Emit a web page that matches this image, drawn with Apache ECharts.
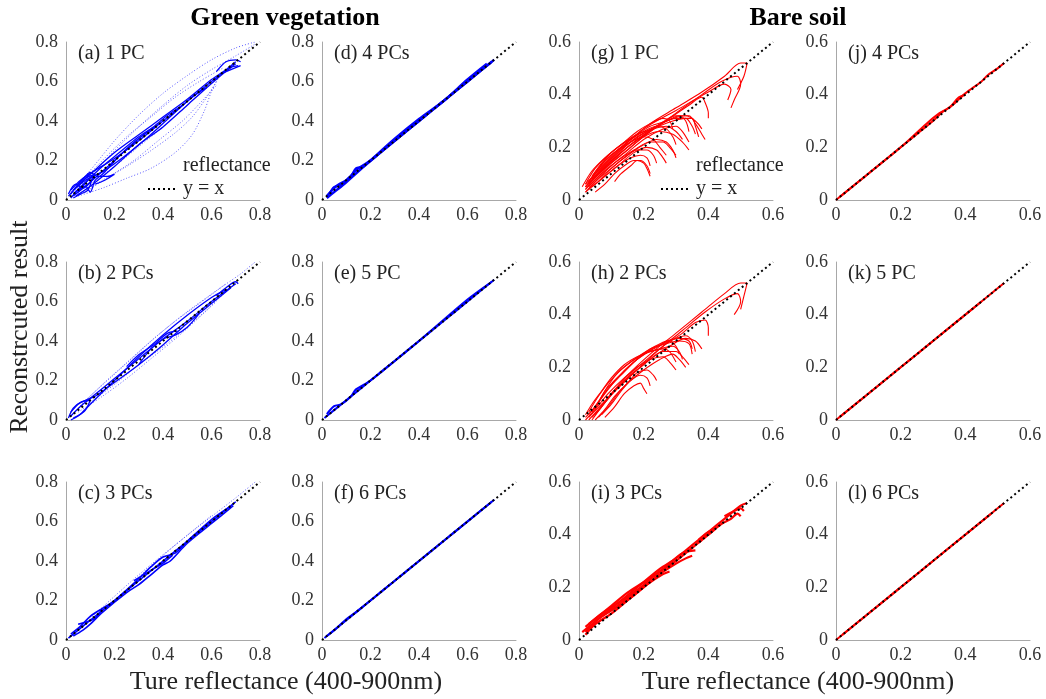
<!DOCTYPE html>
<html>
<head>
<meta charset="utf-8">
<script src="https://cdn.jsdelivr.net/npm/echarts@6/dist/echarts.min.js"></script>
<style>html,body{margin:0;padding:0;background:#fff}#chart{width:1046px;height:699px}</style>
</head>
<body>
<div id="chart"></div>
<script>
// ---------------- DATA ----------------
const panelLabels = ['(a) 1 PC','(b) 2 PCs','(c) 3 PCs','(d) 4 PCs','(e) 5 PC','(f) 6 PCs',
                     '(g) 1 PC','(h) 2 PCs','(i) 3 PCs','(j) 4 PCs','(k) 5 PC','(l) 6 PCs'];
const vegTicks = [0, 0.2, 0.4, 0.6, 0.8];
const soilTicks = [0, 0.2, 0.4, 0.6];
const vegIdentity = [[0,0],[0.8,0.8]];
const soilIdentity = [[0,0],[0.6,0.6]];

// Green vegetation, 1 PC
const vegA_dotted = [
  [[0.02,0.04],[0.1,0.15],[0.2,0.3],[0.3,0.43],[0.4,0.54],[0.5,0.63],[0.6,0.71],[0.7,0.77],[0.78,0.8]],
  [[0.02,0.03],[0.1,0.12],[0.2,0.25],[0.3,0.37],[0.4,0.48],[0.5,0.58],[0.6,0.66],[0.7,0.73],[0.78,0.79]],
  [[0.05,0.02],[0.15,0.06],[0.25,0.11],[0.35,0.16],[0.45,0.24],[0.52,0.33],[0.57,0.45],[0.6,0.55],[0.63,0.62]],
  [[0.05,0.03],[0.15,0.1],[0.25,0.17],[0.35,0.25],[0.45,0.34],[0.52,0.42],[0.58,0.52],[0.62,0.6]],
  [[0.1,0.08],[0.2,0.17],[0.3,0.27],[0.4,0.37],[0.5,0.48],[0.6,0.59],[0.65,0.65]],
  [[0.05,0.07],[0.15,0.2],[0.25,0.32],[0.35,0.42],[0.45,0.52],[0.55,0.6],[0.65,0.67]],
  [[0.08,0.04],[0.18,0.12],[0.28,0.2],[0.38,0.3],[0.48,0.4],[0.56,0.5],[0.62,0.58]]
];
const vegA_solid = [
  [[0.02,0.03],[0.05,0.08],[0.08,0.12],[0.1,0.14],[0.13,0.12],[0.17,0.12],[0.2,0.13],[0.16,0.1],[0.12,0.08]],
  [[0.03,0.02],[0.1,0.09],[0.2,0.2],[0.3,0.31],[0.4,0.4],[0.5,0.5],[0.6,0.6],[0.7,0.69]],
  [[0.03,0.05],[0.1,0.13],[0.2,0.24],[0.3,0.33],[0.4,0.42],[0.5,0.51],[0.6,0.61],[0.66,0.66],[0.7,0.7]],
  [[0.04,0.02],[0.1,0.07],[0.2,0.17],[0.3,0.28],[0.4,0.37],[0.5,0.48],[0.6,0.59],[0.68,0.67],[0.71,0.68]],
  [[0.02,0.05],[0.06,0.1],[0.12,0.15],[0.2,0.21],[0.3,0.3],[0.38,0.38]],
  [[0.01,0.02],[0.04,0.06],[0.08,0.1],[0.11,0.12],[0.09,0.05],[0.06,0.03],[0.03,0.01]],
  [[0.02,0.01],[0.05,0.05],[0.08,0.07],[0.1,0.04],[0.12,0.1],[0.15,0.13],[0.25,0.26],[0.35,0.36]],
  [[0.03,0.03],[0.08,0.09],[0.15,0.17],[0.22,0.24],[0.3,0.32],[0.36,0.37],[0.42,0.43],[0.48,0.48]],
  [[0.05,0.04],[0.1,0.11],[0.16,0.15],[0.24,0.22],[0.33,0.31],[0.42,0.41],[0.52,0.52],[0.58,0.57]],
  [[0.01,0.03],[0.04,0.08],[0.07,0.06],[0.1,0.09],[0.12,0.13],[0.08,0.11],[0.05,0.07]],
  [[0.62,0.65],[0.66,0.7],[0.7,0.71],[0.72,0.7]],
  [[0.64,0.64],[0.68,0.66],[0.72,0.68]]
];
// Green vegetation, 2 PCs
const vegB_dotted = [
  [[0.05,0.06],[0.15,0.18],[0.25,0.29],[0.35,0.4],[0.45,0.5],[0.55,0.59],[0.65,0.68],[0.72,0.74],[0.78,0.8]],
  [[0.05,0.04],[0.15,0.12],[0.25,0.21],[0.35,0.31],[0.45,0.41],[0.55,0.52],[0.62,0.6]],
  [[0.08,0.1],[0.18,0.21],[0.28,0.32],[0.38,0.43],[0.48,0.53],[0.58,0.62],[0.66,0.69]],
  [[0.1,0.09],[0.2,0.18],[0.3,0.28],[0.4,0.37],[0.5,0.47],[0.6,0.58],[0.66,0.65]]
];
const vegB_solid = [
  [[0.02,0.02],[0.06,0.07],[0.1,0.11],[0.2,0.21],[0.3,0.31],[0.4,0.41],[0.5,0.5],[0.6,0.6],[0.7,0.69]],
  [[0.02,0.04],[0.05,0.08],[0.08,0.1],[0.12,0.12],[0.2,0.19],[0.3,0.28],[0.4,0.38],[0.5,0.49],[0.6,0.59],[0.68,0.67]],
  [[0.03,0.01],[0.06,0.03],[0.1,0.08],[0.2,0.2],[0.3,0.32],[0.4,0.43],[0.5,0.53],[0.6,0.62],[0.66,0.66]],
  [[0.01,0.01],[0.03,0.06],[0.06,0.09],[0.1,0.1],[0.08,0.05],[0.05,0.02],[0.02,0.0]],
  [[0.3,0.28],[0.35,0.36],[0.4,0.41],[0.45,0.43],[0.5,0.47],[0.55,0.54]],
  [[0.25,0.27],[0.3,0.33],[0.36,0.38],[0.42,0.44],[0.46,0.45]],
  [[0.62,0.63],[0.66,0.67],[0.7,0.7],[0.71,0.69]]
];
// Green vegetation, 3 PCs
const vegC_dotted = [
  [[0.1,0.11],[0.3,0.33],[0.5,0.53],[0.7,0.72],[0.78,0.8]],
  [[0.3,0.32],[0.45,0.48],[0.6,0.63]]
];
const vegC_solid = [
  [[0.01,0.01],[0.05,0.05],[0.1,0.1],[0.2,0.2],[0.3,0.3],[0.4,0.4],[0.5,0.5],[0.6,0.6],[0.7,0.7]],
  [[0.02,0.03],[0.06,0.07],[0.1,0.12],[0.15,0.16],[0.2,0.2],[0.3,0.31],[0.35,0.37],[0.4,0.42],[0.45,0.44],[0.5,0.5],[0.6,0.61],[0.67,0.67]],
  [[0.03,0.02],[0.07,0.05],[0.1,0.08],[0.15,0.14],[0.25,0.24],[0.3,0.28],[0.35,0.33],[0.4,0.38],[0.43,0.4],[0.5,0.49],[0.6,0.59],[0.69,0.68]],
  [[0.28,0.3],[0.32,0.33],[0.36,0.36],[0.4,0.39],[0.44,0.43]],
  [[0.05,0.08],[0.08,0.09],[0.12,0.11],[0.15,0.16]]
];
// Green vegetation, 4 PCs
const vegD_solid = [
  [[0.02,0.02],[0.05,0.06],[0.07,0.08],[0.1,0.1],[0.15,0.16],[0.2,0.2],[0.3,0.3],[0.4,0.4],[0.5,0.5],[0.6,0.6],[0.7,0.7],[0.71,0.71]],
  [[0.03,0.03],[0.05,0.065],[0.08,0.08],[0.12,0.12],[0.14,0.16],[0.17,0.17],[0.25,0.25],[0.35,0.35],[0.45,0.45],[0.55,0.55],[0.65,0.65],[0.7,0.7]],
  [[0.02,0.01],[0.05,0.04],[0.1,0.09],[0.2,0.2],[0.3,0.31],[0.4,0.41],[0.5,0.5],[0.6,0.61],[0.68,0.69]]
];
// Green vegetation, 5 PCs
const vegE_solid = [
  [[0.01,0.01],[0.05,0.05],[0.1,0.1],[0.2,0.2],[0.3,0.3],[0.4,0.4],[0.5,0.5],[0.6,0.6],[0.71,0.71]],
  [[0.02,0.03],[0.05,0.07],[0.08,0.08],[0.12,0.12],[0.14,0.155],[0.2,0.2],[0.4,0.4],[0.6,0.61],[0.7,0.7]]
];
// Green vegetation, 6 PCs
const vegF_solid = [
  [[0.01,0.01],[0.05,0.05],[0.1,0.1],[0.2,0.2],[0.3,0.3],[0.4,0.4],[0.5,0.5],[0.6,0.6],[0.71,0.71]],
  [[0.02,0.02],[0.06,0.06],[0.1,0.105],[0.15,0.15],[0.3,0.3],[0.5,0.5],[0.7,0.7]]
];
// Bare soil, 1 PC
const soilG_solid = [
  [[0.03,0.07],[0.08,0.14],[0.15,0.22],[0.22,0.29],[0.3,0.35],[0.38,0.41],[0.45,0.47],[0.5,0.52],[0.52,0.52],[0.51,0.47],[0.49,0.42]],
  [[0.03,0.06],[0.08,0.12],[0.15,0.2],[0.22,0.26],[0.3,0.33],[0.38,0.4],[0.44,0.45],[0.49,0.47],[0.5,0.44],[0.48,0.38],[0.47,0.35]],
  [[0.02,0.05],[0.07,0.11],[0.14,0.18],[0.21,0.25],[0.28,0.31],[0.34,0.36],[0.38,0.39],[0.39,0.37],[0.4,0.33],[0.4,0.31]],
  [[0.02,0.04],[0.06,0.1],[0.12,0.17],[0.18,0.23],[0.24,0.28],[0.3,0.32],[0.34,0.32],[0.36,0.29],[0.38,0.25],[0.39,0.23]],
  [[0.02,0.05],[0.06,0.1],[0.11,0.16],[0.17,0.22],[0.23,0.27],[0.29,0.3],[0.33,0.31],[0.35,0.28],[0.36,0.25]],
  [[0.03,0.06],[0.07,0.12],[0.12,0.18],[0.18,0.24],[0.24,0.28],[0.3,0.31],[0.35,0.31],[0.36,0.28],[0.37,0.24]],
  [[0.02,0.03],[0.05,0.07],[0.1,0.13],[0.15,0.18],[0.2,0.23],[0.26,0.27],[0.3,0.28],[0.32,0.26],[0.34,0.22]],
  [[0.02,0.04],[0.06,0.09],[0.1,0.14],[0.15,0.19],[0.2,0.24],[0.25,0.26],[0.29,0.25],[0.32,0.22],[0.34,0.19]],
  [[0.03,0.07],[0.06,0.12],[0.1,0.17],[0.15,0.22],[0.2,0.26],[0.24,0.28],[0.27,0.27],[0.29,0.24],[0.3,0.21]],
  [[0.02,0.05],[0.05,0.1],[0.08,0.15],[0.12,0.19],[0.16,0.22],[0.2,0.24],[0.23,0.23],[0.25,0.2],[0.27,0.17]],
  [[0.02,0.03],[0.05,0.06],[0.09,0.1],[0.13,0.14],[0.17,0.18],[0.21,0.2],[0.24,0.19],[0.26,0.16],[0.27,0.14]],
  [[0.03,0.04],[0.06,0.08],[0.1,0.12],[0.14,0.16],[0.18,0.19],[0.21,0.19],[0.23,0.17],[0.24,0.14]],
  [[0.05,0.03],[0.08,0.06],[0.11,0.1],[0.14,0.13],[0.17,0.15],[0.19,0.15],[0.21,0.13],[0.22,0.1]],
  [[0.11,0.07],[0.13,0.1],[0.16,0.13],[0.18,0.15],[0.2,0.14],[0.21,0.12],[0.22,0.09]],
  [[0.04,0.09],[0.07,0.14],[0.1,0.18],[0.14,0.22],[0.18,0.26],[0.22,0.29],[0.26,0.31],[0.28,0.3],[0.29,0.27]],
  [[0.01,0.05],[0.04,0.11],[0.08,0.16],[0.12,0.2],[0.17,0.24],[0.22,0.28],[0.27,0.3],[0.31,0.32],[0.33,0.3],[0.34,0.26]],
  [[0.02,0.06],[0.05,0.12],[0.09,0.17],[0.13,0.21],[0.18,0.25],[0.23,0.27],[0.27,0.28],[0.3,0.26],[0.32,0.23]],
  [[0.03,0.05],[0.07,0.1],[0.12,0.15],[0.17,0.19],[0.22,0.22],[0.26,0.22],[0.28,0.2],[0.3,0.17]],
  [[0.04,0.05],[0.08,0.09],[0.12,0.13],[0.16,0.16],[0.19,0.17],[0.21,0.16],[0.22,0.13]],
  [[0.02,0.06],[0.1,0.16],[0.2,0.27],[0.3,0.34],[0.4,0.41],[0.45,0.44],[0.47,0.42],[0.46,0.38]],
  [[0.04,0.08],[0.09,0.14],[0.15,0.21],[0.21,0.26],[0.27,0.3],[0.33,0.32],[0.36,0.3],[0.38,0.27]],
  [[0.06,0.07],[0.1,0.12],[0.15,0.17],[0.2,0.21],[0.24,0.23],[0.27,0.22],[0.29,0.19],[0.3,0.16]]
];
// Bare soil, 2 PCs
const soilH_solid = [
  [[0.03,0.0],[0.06,0.04],[0.1,0.1],[0.15,0.17],[0.22,0.25],[0.3,0.33],[0.38,0.41],[0.45,0.48],[0.5,0.52],[0.52,0.52],[0.51,0.47],[0.5,0.42]],
  [[0.03,0.01],[0.07,0.06],[0.12,0.12],[0.18,0.19],[0.25,0.27],[0.32,0.34],[0.39,0.41],[0.45,0.46],[0.49,0.48],[0.5,0.45],[0.48,0.4]],
  [[0.02,0.0],[0.05,0.04],[0.09,0.1],[0.14,0.16],[0.2,0.22],[0.26,0.28],[0.32,0.33],[0.36,0.37],[0.39,0.38],[0.4,0.35],[0.4,0.32]],
  [[0.04,0.0],[0.07,0.05],[0.11,0.11],[0.16,0.17],[0.22,0.23],[0.28,0.28],[0.33,0.31],[0.36,0.3],[0.38,0.27]],
  [[0.02,0.01],[0.05,0.05],[0.09,0.12],[0.13,0.17],[0.18,0.23],[0.23,0.27],[0.28,0.3],[0.33,0.32],[0.35,0.3],[0.36,0.26]],
  [[0.05,0.0],[0.08,0.04],[0.11,0.09],[0.15,0.14],[0.2,0.19],[0.25,0.23],[0.29,0.25],[0.31,0.23],[0.33,0.2]],
  [[0.03,0.02],[0.06,0.07],[0.09,0.13],[0.12,0.18],[0.16,0.22],[0.2,0.25],[0.25,0.27],[0.29,0.28],[0.31,0.26],[0.32,0.23]],
  [[0.06,0.01],[0.09,0.05],[0.12,0.1],[0.15,0.14],[0.18,0.18],[0.21,0.19],[0.23,0.17],[0.24,0.15]],
  [[0.07,0.02],[0.1,0.06],[0.13,0.11],[0.16,0.15],[0.19,0.17],[0.21,0.16],[0.22,0.13]],
  [[0.02,0.02],[0.04,0.06],[0.07,0.11],[0.1,0.16],[0.14,0.21],[0.18,0.24],[0.22,0.26],[0.26,0.27],[0.28,0.26],[0.3,0.22]],
  [[0.04,0.01],[0.07,0.05],[0.1,0.1],[0.14,0.15],[0.18,0.2],[0.22,0.23],[0.26,0.24],[0.28,0.22],[0.3,0.19]],
  [[0.08,0.01],[0.11,0.05],[0.14,0.1],[0.17,0.13],[0.19,0.14],[0.2,0.12],[0.21,0.1]],
  [[0.03,0.03],[0.06,0.09],[0.09,0.14],[0.13,0.19],[0.17,0.23],[0.22,0.27],[0.27,0.3],[0.31,0.31],[0.34,0.3],[0.35,0.27]],
  [[0.05,0.02],[0.09,0.08],[0.14,0.15],[0.2,0.21],[0.26,0.26],[0.3,0.26],[0.32,0.24],[0.34,0.21]],
  [[0.04,0.03],[0.08,0.1],[0.12,0.16],[0.17,0.22],[0.22,0.27],[0.27,0.29],[0.31,0.3],[0.34,0.29],[0.35,0.25]],
  [[0.05,0.04],[0.08,0.11],[0.11,0.15],[0.15,0.2],[0.19,0.24],[0.24,0.28],[0.28,0.3],[0.3,0.28],[0.31,0.25]]
];
// Bare soil, 3 PCs
const soilI_solid = [
  [[0.01,0.03],[0.05,0.07],[0.1,0.12],[0.15,0.17],[0.2,0.22],[0.25,0.27],[0.3,0.31],[0.35,0.36],[0.4,0.41],[0.45,0.46],[0.5,0.51],[0.52,0.52]],
  [[0.02,0.05],[0.06,0.09],[0.1,0.13],[0.15,0.18],[0.2,0.22],[0.25,0.26],[0.3,0.3],[0.35,0.35],[0.38,0.38]],
  [[0.02,0.02],[0.05,0.06],[0.1,0.1],[0.15,0.15],[0.2,0.2],[0.25,0.25],[0.3,0.29],[0.33,0.31],[0.35,0.32]],
  [[0.03,0.06],[0.07,0.1],[0.12,0.14],[0.17,0.18],[0.22,0.23],[0.27,0.28],[0.32,0.33],[0.36,0.34]],
  [[0.02,0.03],[0.06,0.08],[0.11,0.12],[0.16,0.16],[0.21,0.21],[0.26,0.25],[0.28,0.26]],
  [[0.07,0.09],[0.12,0.13],[0.15,0.16],[0.18,0.19],[0.2,0.2]],
  [[0.37,0.38],[0.4,0.41],[0.42,0.42],[0.39,0.39],[0.37,0.37]],
  [[0.4,0.4],[0.44,0.44],[0.47,0.46],[0.49,0.48],[0.5,0.47]],
  [[0.45,0.47],[0.48,0.49],[0.5,0.5],[0.51,0.49]]
];
// Bare soil, 4/5/6 PCs
const soilJ_solid = [
  [[0,0],[0.05,0.05],[0.1,0.1],[0.15,0.15],[0.2,0.2],[0.25,0.25],[0.3,0.3],[0.33,0.335],[0.36,0.36],[0.4,0.405],[0.45,0.45],[0.47,0.475],[0.5,0.5],[0.52,0.52]],
  [[0.01,0.01],[0.1,0.1],[0.2,0.2],[0.28,0.29],[0.32,0.33],[0.35,0.35],[0.38,0.39],[0.4,0.4]]
];
const soilK_solid = [
  [[0,0],[0.1,0.1],[0.2,0.2],[0.3,0.3],[0.4,0.4],[0.5,0.5],[0.52,0.52]],
  [[0.01,0.01],[0.15,0.15],[0.3,0.3],[0.45,0.45]]
];
const soilL_solid = [
  [[0,0],[0.1,0.1],[0.2,0.2],[0.3,0.3],[0.4,0.4],[0.5,0.5],[0.52,0.52]],
  [[0.02,0.02],[0.18,0.18],[0.35,0.35],[0.48,0.48]]
];

// ---------------- LAYOUT ----------------
const colLeft = [66, 322, 579, 836];
const rowTop = [42, 262, 482];
const gW = 194, gH = 158;
const SERIF = '"Liberation Serif", "Times New Roman", serif';
const BLUE = '#0000ff', RED = '#ff0000';

const panels = [
  {c:0,r:0,type:'veg', solid:vegA_solid, dotted:vegA_dotted, w:1.3},
  {c:0,r:1,type:'veg', solid:vegB_solid, dotted:vegB_dotted, w:1.3},
  {c:0,r:2,type:'veg', solid:vegC_solid, dotted:vegC_dotted, w:1.6},
  {c:1,r:0,type:'veg', solid:vegD_solid, dotted:[], w:2.4},
  {c:1,r:1,type:'veg', solid:vegE_solid, dotted:[], w:2},
  {c:1,r:2,type:'veg', solid:vegF_solid, dotted:[], w:2},
  {c:2,r:0,type:'soil', solid:soilG_solid, dotted:[], w:1.1},
  {c:2,r:1,type:'soil', solid:soilH_solid, dotted:[], w:1.1},
  {c:2,r:2,type:'soil', solid:soilI_solid, dotted:[], w:2.2},
  {c:3,r:0,type:'soil', solid:soilJ_solid, dotted:[], w:2},
  {c:3,r:1,type:'soil', solid:soilK_solid, dotted:[], w:2},
  {c:3,r:2,type:'soil', solid:soilL_solid, dotted:[], w:2}
];

const grids = [], xAxes = [], yAxes = [], series = [], graphics = [];
const axisCommon = {
  axisLine:{show:true, lineStyle:{color:'#a8a8a8', width:1}},
  axisTick:{show:false},
  splitLine:{show:false},
  axisLabel:{color:'#333', fontFamily:SERIF, fontSize:18}
};
panels.forEach((p, i) => {
  const ticks = p.type === 'veg' ? vegTicks : soilTicks;
  const max = ticks[ticks.length-1];
  const left = colLeft[p.c], top = rowTop[p.r];
  grids.push({left:left, top:top, width:gW, height:gH, containLabel:false});
  xAxes.push(Object.assign({}, axisCommon, {type:'value', gridIndex:i, min:0, max:max, interval:0.2,
    axisLabel:Object.assign({}, axisCommon.axisLabel, {margin:6})}));
  yAxes.push(Object.assign({}, axisCommon, {type:'value', gridIndex:i, min:0, max:max, interval:0.2,
    axisLabel:Object.assign({}, axisCommon.axisLabel, {margin:8})}));
  const color = p.type === 'veg' ? BLUE : RED;
  p.dotted.forEach(line => series.push({
    type:'line', name:'reflectance', xAxisIndex:i, yAxisIndex:i, data:line, showSymbol:false, symbol:'none',
    smooth:0.3, silent:true, lineStyle:{color:'#4a4aff', width:1, type:[1,2], opacity:0.9}, z:2
  }));
  p.solid.forEach(line => series.push({
    type:'line', name:'reflectance', xAxisIndex:i, yAxisIndex:i, data:line, showSymbol:false, symbol:'none',
    smooth:0.3, silent:true, lineStyle:{color:color, width:p.w}, itemStyle:{color:color}, z:3
  }));
  series.push({
    type:'line', name:'y = x', xAxisIndex:i, yAxisIndex:i, data: p.type==='veg' ? vegIdentity : soilIdentity,
    showSymbol:false, symbol:'none', silent:true, lineStyle:{color:'#000', width:2, type:[2,3]}, itemStyle:{color:'#000'}, z:5
  });
  graphics.push({type:'text', left:left+12, top:top+2, silent:true,
    style:{text:panelLabels[i], fill:'#222', font:'20px ' + SERIF}});
});

// titles / axis names
graphics.push({type:'text', x:285, y:18, silent:true, style:{text:'Green vegetation', fill:'#000', font:'bold 26px ' + SERIF, align:'center', verticalAlign:'middle'}});
graphics.push({type:'text', x:798, y:18, silent:true, style:{text:'Bare soil', fill:'#000', font:'bold 26px ' + SERIF, align:'center', verticalAlign:'middle'}});
graphics.push({type:'text', x:286, y:682, silent:true, style:{text:'Ture reflectance (400-900nm)', fill:'#222', font:'26px ' + SERIF, align:'center', verticalAlign:'middle'}});
graphics.push({type:'text', x:798, y:682, silent:true, style:{text:'Ture reflectance (400-900nm)', fill:'#222', font:'26px ' + SERIF, align:'center', verticalAlign:'middle'}});
graphics.push({type:'text', x:20, y:327, rotation:Math.PI/2, silent:true, style:{text:'Reconstrcuted result', fill:'#222', font:'26px ' + SERIF, align:'center', verticalAlign:'middle'}});

const legendCommon = {
  orient:'vertical', itemWidth:30, itemHeight:10, itemGap:3, selectedMode:false,
  textStyle:{fontFamily:SERIF, fontSize:20, color:'#222'},
  data:[{name:'reflectance', icon:'none', itemStyle:{opacity:0}, lineStyle:{opacity:0}},
        {name:'y = x', itemStyle:{opacity:0}, lineStyle:{color:'#000', width:2, type:[2,3]}}]
};
const legends = [
  Object.assign({}, legendCommon, {left:142, top:151}),
  Object.assign({}, legendCommon, {left:655, top:151})
];

const chart = echarts.init(document.getElementById('chart'), null, {renderer:'canvas'});
chart.setOption({
  animation:false,
  backgroundColor:'#fff',
  grid:grids, xAxis:xAxes, yAxis:yAxes, series:series, graphic:graphics, legend:legends
});
</script>
</body>
</html>
